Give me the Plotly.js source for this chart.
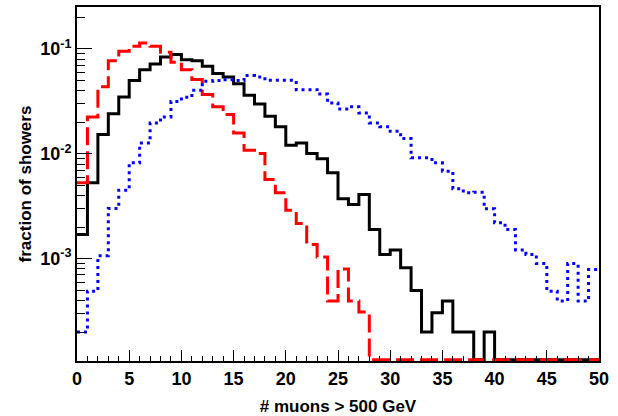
<!DOCTYPE html>
<html>
<head>
<meta charset="utf-8">
<script src="https://cdn.plot.ly/plotly-3.0.1.min.js"></script>
<style>html,body{margin:0;padding:0;background:#fff;}#chart{width:618px;height:416px;}</style>
</head>
<body>
<div id="chart"></div>
<script>
// bin low edges (# muons > 500 GeV), bin width 1
const binLow = [0,1,2,3,4,5,6,7,8,9,10,11,12,13,14,15,16,17,18,19,20,21,22,23,24,25,26,27,28,29,30,31,32,33,34,35,36,37,38,39,40,41,42,43,44,45,46,47,48,49];
const binUpperEdge = 50;

// fraction of showers per bin
const blackSolid = [1.70e-3,5.29e-3,1.53e-2,2.41e-2,3.49e-2,4.99e-2,6.35e-2,7.19e-2,8.39e-2,8.83e-2,
  7.91e-2,7.74e-2,6.83e-2,5.82e-2,5.41e-2,4.67e-2,3.61e-2,2.99e-2,2.28e-2,1.81e-2,
  1.21e-2,1.27e-2,1.01e-2,8.96e-3,6.59e-3,3.73e-3,3.29e-3,4.09e-3,1.90e-3,1.10e-3,
  1.21e-3,8.2e-4,4.99e-4,2.0e-4,3.06e-4,3.95e-4,2.0e-4,2.0e-4,0,2.0e-4,
  0,0,0,0,0,0,0,0,0,0];
const redDashed = [5.29e-3,2.25e-2,4.35e-2,7.74e-2,9.49e-2,0.106,0.114,0.106,9.29e-2,7.45e-2,
  6.35e-2,5.11e-2,3.67e-2,2.81e-2,2.37e-2,1.58e-2,1.08e-2,1.01e-2,5.69e-3,4.26e-3,
  2.90e-3,2.17e-3,1.37e-3,1.04e-3,3.95e-4,8.0e-4,3.95e-4,3.1e-4,0,0,
  0,0,0,0,0,0,0,0,0,0,
  0,0,0,0,0,0,0,0,0,0];
const blueDotted = [2.0e-4,4.91e-4,1.07e-3,3.01e-3,4.50e-3,8.21e-3,1.27e-2,1.97e-2,2.25e-2,3.16e-2,
  3.46e-2,4.04e-2,4.91e-2,4.99e-2,5.10e-2,4.99e-2,5.57e-2,5.41e-2,5.02e-2,5.02e-2,
  5.02e-2,4.09e-2,4.09e-2,3.73e-2,3.06e-2,2.68e-2,2.81e-2,2.45e-2,1.97e-2,1.81e-2,
  1.64e-2,1.40e-2,9.16e-3,9.16e-3,8.21e-3,6.83e-3,4.65e-3,4.26e-3,4.31e-3,2.99e-3,
  2.20e-3,1.90e-3,1.21e-3,1.10e-3,9.0e-4,4.91e-4,3.95e-4,9.0e-4,3.95e-4,7.9e-4];

const yTickVals = [0.001, 0.01, 0.1];
const yTickText = ['10<sup>-3</sup>', '10<sup>-2</sup>', '10<sup>-1</sup>'];
const xTitle = '# muons > 500 GeV';
const yTitle = 'fraction of showers';

const yLogRange = [-3.975, -0.6];
// empty bins are drawn on the frame floor, as ROOT does
const floorVal = Math.pow(10, yLogRange[0] + 0.012);

function stepTrace(vals, color, dash) {
  const x = binLow.concat([binUpperEdge]);
  const y = vals.map(v => v > 0 ? v : floorVal);
  y.push(y[y.length - 1]);
  return {
    x: x, y: y, type: 'scatter', mode: 'lines',
    line: {shape: 'hv', color: color, width: 3, dash: dash},
    hoverinfo: 'skip', showlegend: false
  };
}

const font = {family: 'Liberation Sans, Arial, sans-serif', size: 17, color: '#000', weight: 700};
const tickFont = {family: 'Liberation Sans, Arial, sans-serif', size: 18, color: '#000', weight: 700};

const data = [
  stepTrace(blackSolid, '#000000', 'solid'),
  stepTrace(redDashed, '#ff0000', '18px,6px'),
  stepTrace(blueDotted, '#0000ff', '3px,4px')
];

const layout = {
  width: 618, height: 416,
  margin: {l: 77, r: 19, t: 7, b: 55},
  paper_bgcolor: '#fff', plot_bgcolor: '#fff',
  font: font,
  xaxis: {
    range: [0, 50], showline: true, linewidth: 2, linecolor: '#000', mirror: true,
    ticks: 'inside', ticklen: 11, tickwidth: 1, tickcolor: '#000', dtick: 5, tick0: 0,
    minor: {ticks: 'inside', ticklen: 5, tickwidth: 1, tickcolor: '#000', dtick: 1},
    showgrid: false, zeroline: false, tickfont: tickFont,
    title: {text: xTitle, font: font, standoff: 13}
  },
  yaxis: {
    type: 'log', range: yLogRange, showline: true, linewidth: 2, linecolor: '#000', mirror: true,
    ticks: 'inside', ticklen: 15, tickwidth: 1, tickcolor: '#000',
    tickvals: yTickVals, ticktext: yTickText,
    minor: {ticks: 'inside', ticklen: 8, tickwidth: 1, tickcolor: '#000', dtick: 'D1'},
    showgrid: false, zeroline: false, tickfont: tickFont,
    title: {text: yTitle, font: font, standoff: 4}
  }
};

Plotly.newPlot('chart', data, layout, {staticPlot: true, displayModeBar: false});
</script>
</body>
</html>
